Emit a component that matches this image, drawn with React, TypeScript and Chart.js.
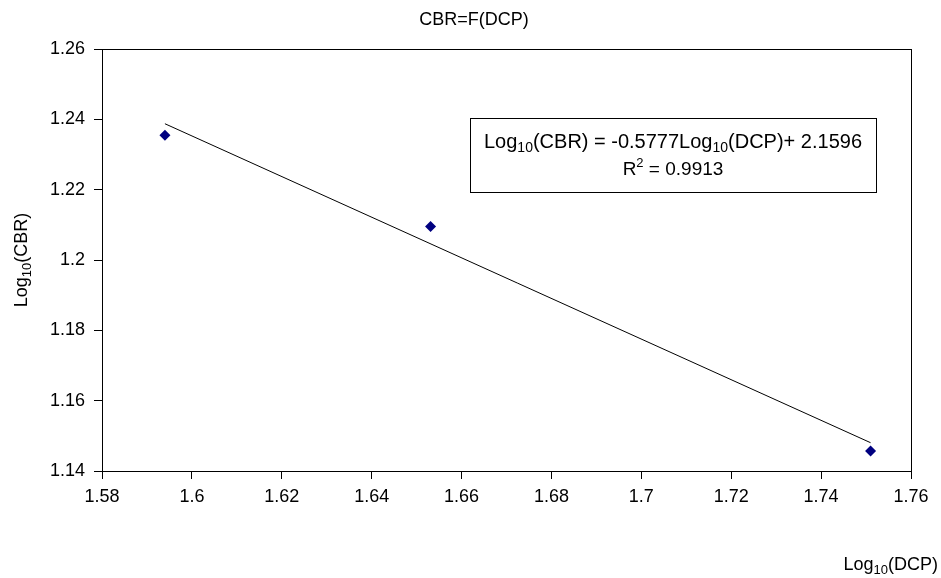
import React, { useEffect, useRef } from "react";
import { Chart, registerables } from "chart.js";

Chart.register(...registerables);

const xValues = [1.594, 1.6531, 1.751];
const yValues = [1.2355, 1.2095, 1.1457];
const xTickValues = [1.58, 1.6, 1.62, 1.64, 1.66, 1.68, 1.7, 1.72, 1.74, 1.76];
const yTickValues = [1.14, 1.16, 1.18, 1.2, 1.22, 1.24, 1.26];
const trendSlope = -0.5777;
const trendIntercept = 2.1596;
const rSquared = 0.9913;
const titleText = "CBR=F(DCP)";

const FONT = '"Liberation Sans", Arial, sans-serif';
const FS = 18;

type Part = { t: string; sub?: boolean; sup?: boolean };

function richWidth(ctx: CanvasRenderingContext2D, parts: Part[], fs: number) {
  let w = 0;
  for (const p of parts) {
    ctx.font = `${p.sub || p.sup ? Math.round(fs * 0.7) : fs}px ${FONT}`;
    w += ctx.measureText(p.t).width;
  }
  return w;
}

function drawRich(
  ctx: CanvasRenderingContext2D,
  parts: Part[],
  x: number,
  y: number,
  align: "left" | "center" | "right",
  fs: number = FS
) {
  const w = richWidth(ctx, parts, fs);
  let cx = align === "left" ? x : align === "center" ? x - w / 2 : x - w;
  ctx.textAlign = "left";
  ctx.textBaseline = "middle";
  ctx.fillStyle = "#000";
  for (const p of parts) {
    const small = p.sub || p.sup;
    ctx.font = `${small ? Math.round(fs * 0.7) : fs}px ${FONT}`;
    const dy = p.sub ? fs * 0.3 : p.sup ? -fs * 0.33 : 0;
    ctx.fillText(p.t, cx, y + dy);
    cx += ctx.measureText(p.t).width;
  }
}

const textPlugin = {
  id: "customText",
  afterDraw(chart: any) {
    const ctx: CanvasRenderingContext2D = chart.ctx;
    const a = chart.chartArea;
    ctx.save();
    // plot frame
    ctx.strokeStyle = "#000";
    ctx.lineWidth = 1;
    ctx.strokeRect(Math.round(a.left) + 0.5, Math.round(a.top) + 0.5, Math.round(a.right - a.left), Math.round(a.bottom - a.top));

    // title
    ctx.font = `${FS}px ${FONT}`;
    ctx.fillStyle = "#000";
    ctx.textAlign = "center";
    ctx.textBaseline = "middle";
    ctx.fillText(titleText, 474, 20);

    // y axis title (rotated)
    ctx.save();
    ctx.translate(22, (a.top + a.bottom) / 2);
    ctx.rotate(-Math.PI / 2);
    drawRich(ctx, [{ t: "Log" }, { t: "10", sub: true }, { t: "(CBR)" }], 0, 0, "center");
    ctx.restore();

    // x axis title
    drawRich(ctx, [{ t: "Log" }, { t: "10", sub: true }, { t: "(DCP)" }], 938, 565, "right");

    // equation box
    const bx = 470, by = 118, bw = 406, bh = 74;
    ctx.fillStyle = "#fff";
    ctx.fillRect(bx, by, bw, bh);
    ctx.strokeStyle = "#000";
    ctx.lineWidth = 1;
    ctx.strokeRect(bx + 0.5, by + 0.5, bw, bh);
    const cxm = bx + bw / 2;
    drawRich(
      ctx,
      [
        { t: "Log" },
        { t: "10", sub: true },
        { t: "(CBR) = " + trendSlope.toFixed(4) + "Log" },
        { t: "10", sub: true },
        { t: "(DCP)+ " + trendIntercept.toFixed(4) },
      ],
      cxm,
      by + 24,
      "center",
      20
    );
    drawRich(ctx, [{ t: "R" }, { t: "2", sup: true }, { t: " = " + rSquared.toFixed(4) }], cxm, by + 52, "center", 19);
    ctx.restore();
  },
};

export default function App() {
  const ref = useRef<HTMLCanvasElement | null>(null);
  useEffect(() => {
    if (!ref.current) return;
    const minX = Math.min(...xValues);
    const maxX = Math.max(...xValues);
    const trend = [minX, maxX].map((x) => ({ x, y: trendSlope * x + trendIntercept }));
    const chart = new Chart(ref.current, {
      type: "scatter",
      data: {
        datasets: [
          {
            type: "line",
            data: trend,
            borderColor: "#000",
            borderWidth: 1,
            pointRadius: 0,
            fill: false,
            order: 2,
          } as any,
          {
            data: xValues.map((x, i) => ({ x, y: yValues[i] })),
            pointStyle: "rectRot",
            pointRadius: 5.5,
            pointBackgroundColor: "#000080",
            pointBorderColor: "#000080",
            borderWidth: 0,
            order: 1,
          } as any,
        ],
      },
      options: {
        animation: false,
        responsive: false,
        devicePixelRatio: 1,
        layout: { padding: { top: 49, right: 30, left: 0, bottom: 0 } },
        plugins: { legend: { display: false }, tooltip: { enabled: false }, title: { display: false } },
        scales: {
          x: {
            type: "linear",
            min: 1.58,
            max: 1.76,
            afterBuildTicks: (s: any) => {
              s.ticks = xTickValues.map((v) => ({ value: v }));
            },
            afterFit: (s: any) => {
              s.height = 107;
            },
            ticks: {
              color: "#000",
              font: { family: FONT, size: FS },
              padding: 7,
              maxRotation: 0,
              autoSkip: false,
              callback: (v: any) => String(Number(Number(v).toFixed(2))),
            },
            grid: { drawOnChartArea: false, drawTicks: true, tickLength: 8, color: "#000" },
            border: { color: "#000" },
          },
          y: {
            type: "linear",
            min: 1.14,
            max: 1.26,
            afterBuildTicks: (s: any) => {
              s.ticks = yTickValues.map((v) => ({ value: v }));
            },
            afterFit: (s: any) => {
              s.width = 102;
            },
            ticks: {
              color: "#000",
              font: { family: FONT, size: FS },
              padding: 9,
              autoSkip: false,
              callback: (v: any) => String(Number(Number(v).toFixed(2))),
            },
            grid: { drawOnChartArea: false, drawTicks: true, tickLength: 8, color: "#000" },
            border: { color: "#000" },
          },
        },
      },
      plugins: [textPlugin],
    });
    return () => chart.destroy();
  }, []);
  return (
    <div style={{ position: "fixed", left: 0, top: 0, width: 941, height: 578, background: "#fff" }}>
      <canvas ref={ref} width={941} height={578} style={{ width: 941, height: 578, display: "block" }} />
    </div>
  );
}
